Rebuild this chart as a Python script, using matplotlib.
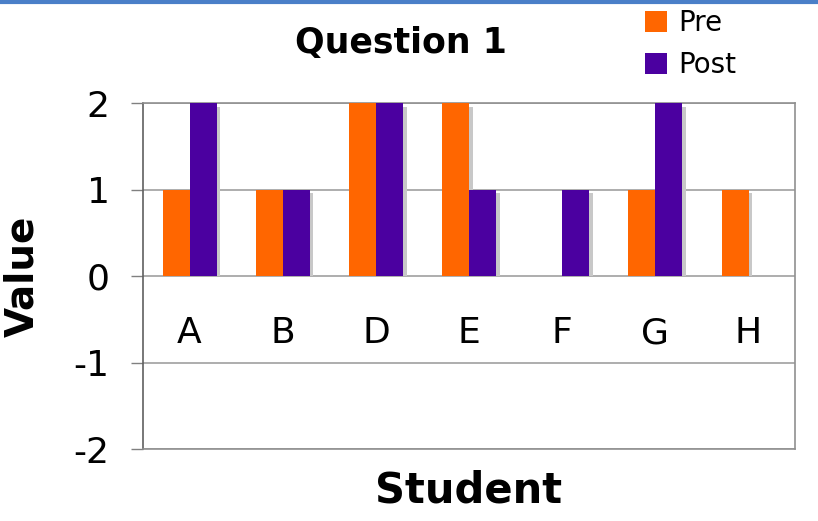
import numpy as np
import matplotlib
matplotlib.use("Agg")
import matplotlib.pyplot as plt

plt.rcParams["axes.unicode_minus"] = False

# Data
students = ["A", "B", "D", "E", "F", "G", "H"]
pre = [1, 1, 2, 2, 0, 1, 1]
post = [2, 1, 2, 1, 1, 2, 0]

pre_color = "#ff6600"
post_color = "#4b00a0"
shadow_color = "#c8c8c8"

fig = plt.figure(figsize=(8.18, 5.21), dpi=100)
ax = fig.add_axes([0.1748, 0.138, 0.7972, 0.664])

x = np.arange(len(students))
w = 0.29
dx, dy = 0.04, 0.04

# shadows
for vals, off in [(pre, -w / 2), (post, w / 2)]:
    v = np.array(vals, dtype=float)
    ax.bar(x + off + dx, np.where(v > 0, v - dy, 0), w, color=shadow_color, zorder=2)

ax.bar(x - w / 2, pre, w, color=pre_color, label="Pre", zorder=3)
ax.bar(x + w / 2, post, w, color=post_color, label="Post", zorder=3)

ax.set_xlim(-0.5, len(students) - 0.5)
ax.set_ylim(-2, 2)
ax.set_yticks([-2, -1, 0, 1, 2])
ax.yaxis.grid(True, color="#a0a0a0", linewidth=1.2, zorder=1)
ax.set_axisbelow(True)
ax.set_xticks([])
ax.tick_params(axis="y", length=9, width=1, color="#808080", labelsize=26, pad=15)
for s in ax.spines.values():
    s.set_color("#909090")
    s.set_linewidth(1.2)
ax.spines["left"].set_color("#606060")

for i, name in enumerate(students):
    ax.text(i, -0.66, name, ha="center", va="center", fontsize=26)

ax.set_ylabel("Value", fontsize=28, fontweight="bold", labelpad=23)
ax.set_xlabel("Student", fontsize=30, fontweight="bold", labelpad=15)
fig.text(0.49, 0.917, "Question 1", ha="center", va="center", fontsize=25, fontweight="bold")

fig.legend(loc="upper left", bbox_to_anchor=(0.758, 1.03), frameon=False, fontsize=20,
           handlelength=0.8, handleheight=0.8, handletextpad=0.4, labelspacing=0.5)

# window border line at the top
fig.add_artist(plt.Line2D([0, 1], [0.997, 0.997], transform=fig.transFigure, color="#4a7fc8", linewidth=3))

fig.savefig("out.png", dpi=100)
